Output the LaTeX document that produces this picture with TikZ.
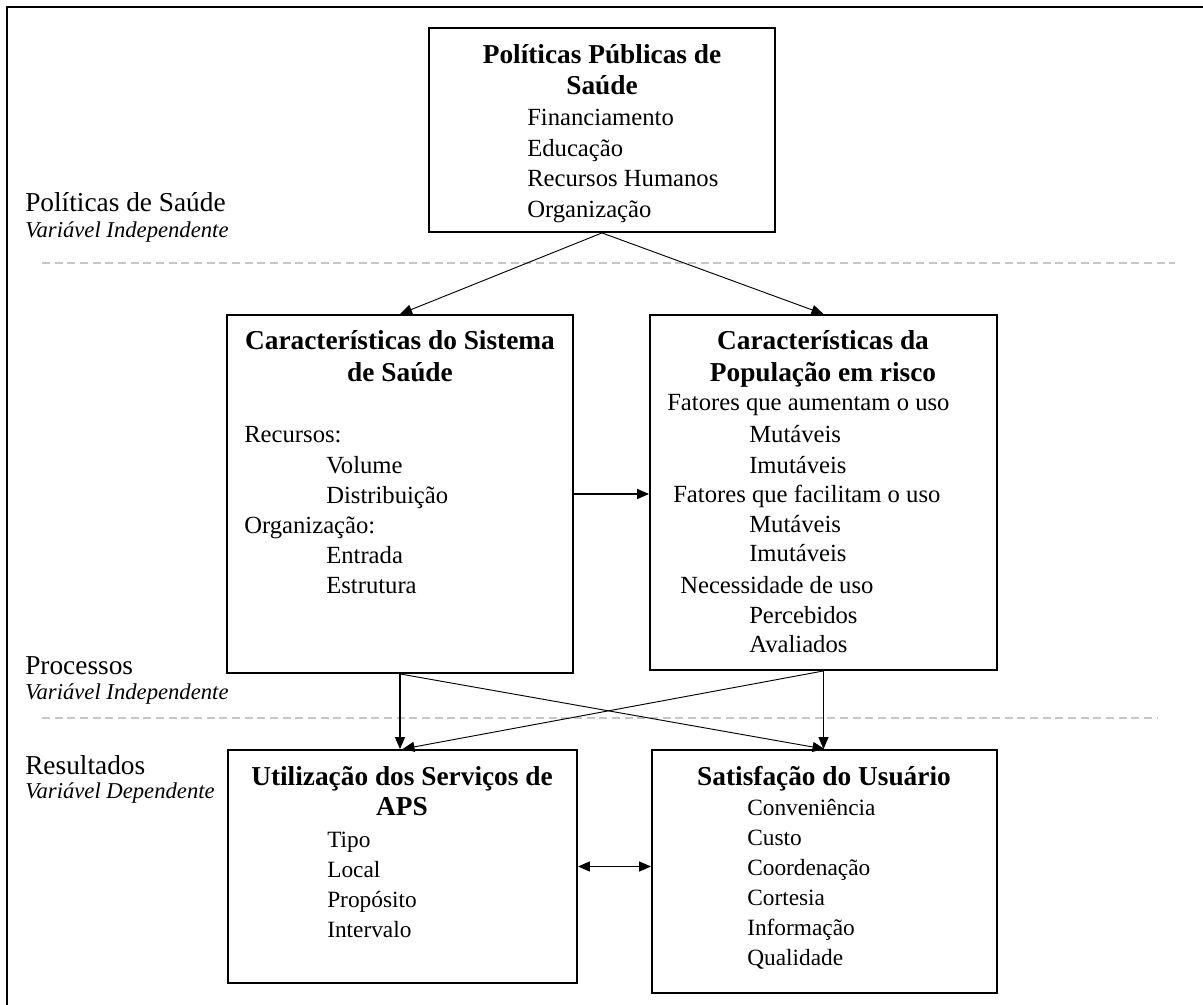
\documentclass[tikz,border=0pt]{standalone}
\usepackage{fontspec}
\setmainfont{Liberation Serif}
\usetikzlibrary{arrows.meta, positioning, fit}

\begin{document}
\begin{tikzpicture}[x=0.75pt, y=-0.75pt,
  box/.style={rectangle, draw, line width=1.4pt, inner sep=0pt},
  title/.style={font=\bfseries\fontsize{20.5}{24}\selectfont, inner sep=0pt, anchor=base},
  item/.style={font=\fontsize{18.5}{22}\selectfont, inner sep=0pt, anchor=base west},
  small/.style={font=\fontsize{17.5}{21}\selectfont, inner sep=0pt, anchor=base west},
  side/.style={font=\fontsize{20.5}{24}\selectfont, inner sep=0pt, anchor=base west},
  note/.style={font=\itshape\fontsize{17}{20}\selectfont, inner sep=0pt, anchor=base west},
  sep/.style={gray!45, line width=0.9pt, dash pattern=on 6pt off 3.5pt},
  link/.style={-{Triangle[length=9pt,width=7.5pt]}, line width=0.7pt}]
\useasboundingbox (0,0) rectangle (1203,1005);

% frame and level separators
\draw[line width=1.5pt] (7,1005) -- (7,7) -- (1203,7);
\draw[sep] (42,263) -- (1175,263);
\draw[sep] (42,718) -- (1157,718);

% level labels
\node[side] (lpol) at (25,212) {Políticas de Saúde};
\node[note] (lpolv) at (25,238) {Variável Independente};
\node[side] (lproc) at (25,674) {Processos};
\node[note] (lprocv) at (25,699) {Variável Independente};
\node[side] (lres) at (25,774) {Resultados};
\node[note] (lresv) at (25,798) {Variável Dependente};

% boxes
\node[box, fit={(429,28) (775,232)}] (pol) {};
\node[box, fit={(227,315) (573,673)}] (sys) {};
\node[box, fit={(650,315) (997,670)}] (pop) {};
\node[box, fit={(228,750) (577,983)}] (util) {};
\node[box, fit={(652,750) (997,993)}] (sat) {};

% policies
\node[title] (polt1) at (602,64) {Políticas Públicas de};
\node[title] (polt2) at (602,95) {Saúde};
\foreach \t [count=\i] in {Financiamento, Educação, Recursos Humanos, Organização}
  \node[item] (pol\i) at (527,{126+30.5*(\i-1)}) {\t};

% health system
\node[title] (syst1) at (400,350) {Características do Sistema};
\node[title] (syst2) at (400,382) {de Saúde};
\foreach \x/\t [count=\i] in {244/Recursos:, 326/Volume, 326/Distribuição,
    244/Organização:, 326/Entrada, 326/Estrutura}
  \node[item] (sys\i) at (\x,{443+30*(\i-1)}) {\t};

% population
\node[title] (popt1) at (823,350) {Características da};
\node[title] (popt2) at (823,382) {População em risco};
\foreach \x/\y/\t [count=\i] in {667/411/Fatores que aumentam o uso, 749/443/Mutáveis,
    749/473/Imutáveis, 673/502/Fatores que facilitam o uso, 749/532/Mutáveis,
    749/561/Imutáveis, 680/593/Necessidade de uso, 749/623/Percebidos, 749/652/Avaliados}
  \node[item] (pop\i) at (\x,\y) {\t};

% use of services
\node[title] (utilt1) at (402,785) {Utilização dos Serviços de};
\node[title] (utilt2) at (402,815) {APS};
\foreach \t [count=\i] in {Tipo, Local, Propósito, Intervalo}
  \node[small] (util\i) at (327,{847+30*(\i-1)}) {\t};

% satisfaction
\node[title] (satt1) at (824,785) {Satisfação do Usuário};
\foreach \t [count=\i] in {Conveniência, Custo, Coordenação, Cortesia, Informação, Qualidade}
  \node[small] (sat\i) at (747,{815+30*(\i-1)}) {\t};

% connectors
\draw[link] (pol.south) -- (sys.north);
\draw[link] (pol.south) -- (pop.north);
\draw[link, line width=1.3pt] (sys.east) -- (sys.east -| pop.west);
\draw[link, line width=1.1pt] (sys.south) -- (sys.south |- util.north);
\draw[link] (sys.south) -- (sat.north);
\draw[link] (pop.south) -- (util.north);
\draw[link] (pop.south) -- (pop.south |- sat.north);
\draw[{Triangle[length=9pt,width=7.5pt]}-{Triangle[length=9pt,width=7.5pt]}, line width=1pt]
  (util.east) -- (util.east -| sat.west);
\end{tikzpicture}
\end{document}
